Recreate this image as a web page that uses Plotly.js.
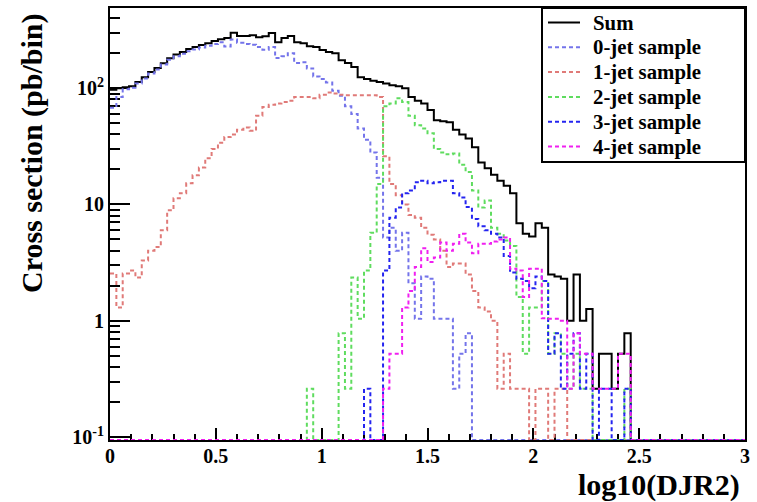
<!DOCTYPE html>
<html>
<head>
<meta charset="utf-8">
<script src="https://cdn.plot.ly/plotly-3.0.1.min.js"></script>
<style>
  html, body { margin: 0; padding: 0; background: #ffffff; }
  #chart { width: 757px; height: 502px; }
</style>
</head>
<body>
<div id="chart"></div>
<script>
// Histogram binning: 100 bins of width 0.03 on log10(DJR2) in [0, 3]
const binWidth = 0.03;

const sumValues = [
  97, 100, 102, 104, 113, 124, 138, 149, 164, 181,
  195, 205, 217, 226, 235, 244, 255, 264, 270, 300,
  281, 281, 285, 275, 280, 298, 249, 270, 281, 249,
  244, 230, 226, 213, 205, 200, 174, 165, 152, 124,
  120, 116, 113, 110, 106, 104, 100, 84, 78, 74,
  65, 53, 52, 51, 44, 40, 37, 31, 23, 20.5,
  18, 16, 14.5, 12.5, 6.9, 5.6, 5.3, 6.9, 6.3, 2.5,
  2.4, 2.3, 1.0, 2.5, 1.0, 1.26, 0.26, 0.52, 0.52, 0.26,
  0.52, 0.78, 0, 0, 0, 0, 0, 0, 0, 0,
  0, 0, 0, 0, 0, 0, 0, 0, 0, 0
];

const jet0Values = [
  68, 84, 98, 101, 110, 121, 134, 145, 160, 176,
  188, 198, 208, 215, 224, 232, 240, 248, 228, 262,
  246, 240, 236, 226, 214, 226, 182, 188, 200, 165,
  167, 148, 126, 120, 112, 95, 86, 70, 60, 45,
  36, 28, 17, 5.2, 6.3, 4.0, 5.7, 2.1, 1.04, 2.4,
  2.3, 1.04, 1.04, 1.04, 0.26, 0.52, 0.78, 0, 0, 0,
  0, 0, 0, 0, 0, 0, 0, 0, 0, 0,
  0, 0, 0, 0, 0, 0, 0, 0, 0, 0,
  0, 0, 0, 0, 0, 0, 0, 0, 0, 0,
  0, 0, 0, 0, 0, 0, 0, 0, 0, 0
];

const jet1Values = [
  2.55, 1.3, 2.55, 2.7, 2.35, 3.3, 4.0, 4.3, 6.0, 8.9,
  11.3, 12.5, 15.2, 17.8, 20.8, 25, 30, 34, 38, 40,
  44, 46, 43, 58, 69, 72, 74, 76, 78, 84,
  84, 84, 82, 88, 92, 90, 88, 87, 87, 87,
  87, 87, 84, 26, 15, 12, 10, 8.1, 7.7, 6.3,
  5.5, 5.0, 4.0, 2.9, 3.1, 3.1, 2.5, 1.8, 1.3, 1.2,
  1.0, 0.26, 0.52, 0.26, 0.26, 0.26, 0, 0.26, 0.26, 0,
  0.26, 0.26, 0, 0, 0, 0, 0, 0, 0, 0,
  0, 0, 0, 0, 0, 0, 0, 0, 0, 0,
  0, 0, 0, 0, 0, 0, 0, 0, 0, 0
];

const jet2Values = [
  0, 0, 0, 0, 0, 0, 0, 0, 0, 0,
  0, 0, 0, 0, 0, 0, 0, 0, 0, 0,
  0, 0, 0, 0, 0, 0, 0, 0, 0, 0,
  0, 0.26, 0, 0, 0, 0, 0.78, 0.26, 2.35, 1.04,
  2.7, 5.7, 15, 70, 74, 82, 76, 58, 48, 45,
  41, 30, 28, 27, 27.5, 22, 19, 13.2, 9.4, 10.8,
  6.3, 5.6, 4.9, 4.4, 1.6, 0.52, 1.3, 1.3, 2.2, 0.52,
  0.78, 0.52, 0.26, 0.52, 0.26, 0.26, 0, 0, 0, 0,
  0, 0.26, 0, 0, 0, 0, 0, 0, 0, 0,
  0, 0, 0, 0, 0, 0, 0, 0, 0, 0
];

const jet3Values = [
  0, 0, 0, 0, 0, 0, 0, 0, 0, 0,
  0, 0, 0, 0, 0, 0, 0, 0, 0, 0,
  0, 0, 0, 0, 0, 0, 0, 0, 0, 0,
  0, 0, 0, 0, 0, 0, 0, 0, 0, 0,
  0.26, 0, 0, 2.7, 7.7, 9.4, 12.5, 13.2, 15.5, 16,
  15.2, 15.5, 16, 16, 12.5, 11.5, 9.5, 7.5, 6.5, 6.0,
  5.6, 5.2, 3.6, 2.6, 2.3, 2.2, 1.9, 2.4, 2.2, 0.52,
  0.78, 0.26, 0.52, 0.78, 0.26, 0.52, 0, 0.26, 0.26, 0,
  0, 0.26, 0, 0, 0, 0, 0, 0, 0, 0,
  0, 0, 0, 0, 0, 0, 0, 0, 0, 0
];

const jet4Values = [
  0, 0, 0, 0, 0, 0, 0, 0, 0, 0,
  0, 0, 0, 0, 0, 0, 0, 0, 0, 0,
  0, 0, 0, 0, 0, 0, 0, 0, 0, 0,
  0, 0, 0, 0, 0, 0, 0, 0, 0, 0,
  0, 0, 0, 0.26, 0.52, 0.52, 1.3, 1.8, 2.9, 4.2,
  3.2, 3.5, 4.7, 4.0, 4.6, 5.6, 4.7, 3.8, 4.6, 4.6,
  4.8, 5.0, 5.2, 2.8, 2.7, 1.6, 2.8, 2.8, 1.05, 1.04,
  1.04, 1.0, 0.26, 0.78, 0.52, 0.52, 0.26, 0.26, 0.26, 0.26,
  0.52, 0.52, 0, 0, 0, 0, 0, 0, 0, 0,
  0, 0, 0, 0, 0, 0, 0, 0, 0, 0
];

const seriesNames = ['Sum', '0-jet sample', '1-jet sample', '2-jet sample', '3-jet sample', '4-jet sample'];
const yTickValues = [0.1, 1, 10, 100];
const yTickLabels = ['10<sup>-1</sup>', '1', '10', '10<sup>2</sup>'];
const xTitle = 'log10(DJR2)';
const yTitle = 'Cross section (pb/bin)';

// ---------- styling ----------
const FONT = 'Liberation Serif, "DejaVu Serif", Times New Roman, serif';
const W = 757, H = 502;
const M = { l: 110, r: 12, t: 8, b: 62 };
const plotW = W - M.l - M.r, plotH = H - M.t - M.b;
const yLogRange = [-1.026, 2.69];
const yFloor = Math.pow(10, yLogRange[0]); // empty bins sit on the frame bottom, as ROOT draws them

const styles = [
  { color: '#000000', dash: 'solid', width: 2 },
  { color: '#7474ea', dash: '4px,3px', width: 2 },
  { color: '#e07a78', dash: '4px,3px', width: 2 },
  { color: '#5fdc5f', dash: '4px,3px', width: 2 },
  { color: '#2424f0', dash: '4px,3px', width: 2 },
  { color: '#f020f0', dash: '4px,3px', width: 2 }
];

function histTrace(values, name, st) {
  const x = [], y = [];
  values.forEach((v, i) => { x.push(i * binWidth); y.push(v > 0 ? v : yFloor); });
  const last = values[values.length - 1];
  x.push(values.length * binWidth); y.push(last > 0 ? last : yFloor);
  return {
    type: 'scatter', mode: 'lines', x: x, y: y, name: name,
    line: { shape: 'hv', color: st.color, dash: st.dash, width: st.width },
    hoverinfo: 'skip', showlegend: false
  };
}

const allValues = [sumValues, jet0Values, jet1Values, jet2Values, jet3Values, jet4Values];
const traces = allValues.map((vals, i) => histTrace(vals, seriesNames[i], styles[i]));

// minor ticks on the log axis (2..9 of each decade)
const yMinor = [];
[0.1, 1, 10, 100].forEach(d => { for (let m = 2; m <= 9; m++) { const v = d * m; if (Math.log10(v) < yLogRange[1]) yMinor.push(v); } });

// pixel -> paper helpers (for the ROOT-style legend box)
const px = p => (p - M.l) / plotW;
const py = p => (H - M.b - p) / plotH;

const legendBox = { left: 542, right: 745, top: 8, bottom: 162 };
const legendRow0 = 22.5, legendRowStep = 24.8;
const sampleX0 = 548, sampleX1 = 580, legendTextX = 591;

const shapes = [{
  type: 'rect', xref: 'paper', yref: 'paper', layer: 'above',
  x0: px(legendBox.left), x1: px(legendBox.right), y0: py(legendBox.bottom), y1: py(legendBox.top),
  fillcolor: '#ffffff', line: { color: '#000000', width: 2 }
}];
const annotations = [];
seriesNames.forEach((name, i) => {
  const yc = legendRow0 + i * legendRowStep;
  shapes.push({
    type: 'line', xref: 'paper', yref: 'paper', layer: 'above',
    x0: px(sampleX0), x1: px(sampleX1), y0: py(yc), y1: py(yc),
    line: { color: styles[i].color, width: 2, dash: styles[i].dash }
  });
  annotations.push({
    text: name, xref: 'paper', yref: 'paper', x: px(legendTextX), y: py(yc),
    xanchor: 'left', yanchor: 'middle', showarrow: false,
    font: { family: FONT, size: 20.8, weight: 'bold', color: '#000000' }
  });
});
annotations.push({
  text: yTitle, xref: 'paper', yref: 'paper',
  x: px(32), y: py(153), xanchor: 'center', yanchor: 'middle',
  textangle: -90, showarrow: false,
  font: { family: FONT, size: 30, weight: 'bold', color: '#000000' }
});
annotations.push({
  text: xTitle, xref: 'paper', yref: 'paper',
  x: px(742), y: py(485), xanchor: 'right', yanchor: 'middle',
  showarrow: false,
  font: { family: FONT, size: 30, weight: 'bold', color: '#000000' }
});

const layout = {
  width: W, height: H,
  margin: { l: M.l, r: M.r, t: M.t, b: M.b, pad: 0 },
  paper_bgcolor: '#ffffff', plot_bgcolor: '#ffffff',
  showlegend: false,
  font: { family: FONT, color: '#000000' },
  xaxis: {
    range: [0, 3], tick0: 0, dtick: 0.5,
    showgrid: false, zeroline: false,
    showline: true, linecolor: '#000000', linewidth: 2, mirror: true,
    ticks: 'inside', ticklen: 12, tickwidth: 2, tickcolor: '#000000',
    minor: { dtick: 0.1, tick0: 0, ticks: 'inside', ticklen: 6, tickwidth: 2, tickcolor: '#000000', showgrid: false },
    tickfont: { family: FONT, size: 20, weight: 'bold', color: '#000000' },
    ticklabelstandoff: -3,
    layer: 'below traces'
  },
  yaxis: {
    type: 'log', range: yLogRange,
    tickmode: 'array', tickvals: yTickValues, ticktext: yTickLabels,
    showgrid: false, zeroline: false,
    showline: true, linecolor: '#000000', linewidth: 2, mirror: true,
    ticks: 'inside', ticklen: 20, tickwidth: 2, tickcolor: '#000000',
    minor: { tickmode: 'array', tickvals: yMinor, ticks: 'inside', ticklen: 10, tickwidth: 2, tickcolor: '#000000', showgrid: false },
    tickfont: { family: FONT, size: 20, weight: 'bold', color: '#000000' },
    layer: 'below traces'
  },
  shapes: shapes,
  annotations: annotations
};

Plotly.newPlot('chart', traces, layout, { staticPlot: true, displayModeBar: false });
</script>
</body>
</html>
